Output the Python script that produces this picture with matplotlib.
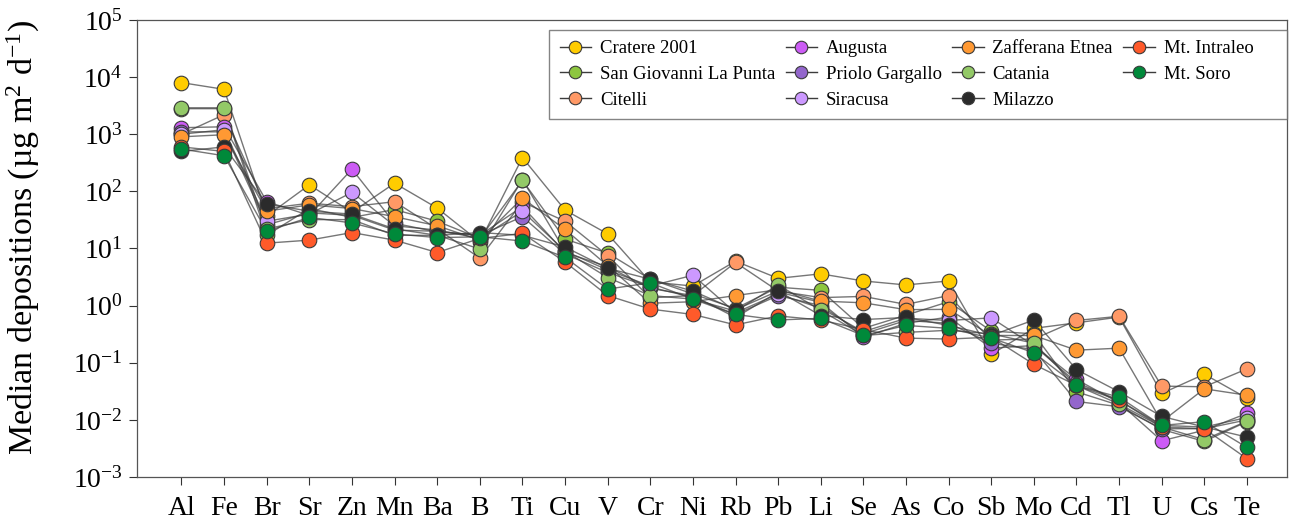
import matplotlib
matplotlib.use("Agg")
import matplotlib.pyplot as plt
from matplotlib.lines import Line2D
import numpy as np

plt.rcParams['font.family'] = ['Liberation Serif', 'DejaVu Serif']
plt.rcParams['mathtext.fontset'] = 'custom'
plt.rcParams['mathtext.rm'] = 'Liberation Serif'
plt.rcParams['mathtext.it'] = 'Liberation Serif:italic'

elements = ['Al', 'Fe', 'Br', 'Sr', 'Zn', 'Mn', 'Ba', 'B', 'Ti', 'Cu', 'V', 'Cr', 'Ni',
            'Rb', 'Pb', 'Li', 'Se', 'As', 'Co', 'Sb', 'Mo', 'Cd', 'Tl', 'U', 'Cs', 'Te']

cratere = [8000, 6100, 37, 130, 43, 139, 51, 13, 390, 47, 18, 2.6, 2.2, 6.0, 3.0, 3.6,
           2.7, 2.3, 2.7, 0.14, 0.40, 0.50, 0.63, 0.029, 0.063, 0.024]
san_giovanni = [2800, 2800, 17, 50, 35, 48, 30, 15, 155, 14.6, 8.3, 2.9, 1.6, 0.89, 2.1, 1.85,
                0.40, 0.68, 1.17, 0.36, 0.32, 0.031, 0.018, 0.0068, 0.0042, 0.0093]
citelli = [1000, 2200, 50, 62, 54, 66, 22, 6.8, 65, 30, 7.5, 1.37, 1.5, 5.7, 1.8, 1.38,
           1.45, 1.05, 1.5, 0.25, 0.26, 0.55, 0.65, 0.039, 0.038, 0.078]
augusta = [1300, 1350, 66, 38, 245, 27.6, 19.5, 17, 54, 8.5, 4.8, 2.0, 1.5, 0.62, 1.73, 1.14,
           0.28, 0.49, 0.63, 0.18, 0.20, 0.051, 0.020, 0.0043, 0.0066, 0.013]
priolo = [1100, 1100, 26, 42, 38, 21, 20, 17, 36, 8, 3.8, 2.1, 1.4, 0.7, 1.5, 1.0,
          0.32, 0.55, 0.49, 0.22, 0.17, 0.021, 0.017, 0.007, 0.007, 0.010]
siracusa = [1000, 1200, 30, 40, 96, 25, 21, 15, 45, 9, 4.2, 2.2, 3.4, 0.75, 1.6, 0.9,
            0.35, 0.6, 0.55, 0.61, 0.2, 0.045, 0.022, 0.008, 0.0075, 0.011]
zafferana = [900, 980, 45, 58, 50, 36, 25, 14, 76, 21.5, 5, 1.1, 1.17, 1.5, 1.9, 1.2,
             1.12, 0.85, 0.86, 0.3, 0.3, 0.166, 0.18, 0.0093, 0.035, 0.027]
catania = [2900, 2900, 22, 32, 32, 17, 17, 9.8, 160, 9, 3.1, 1.5, 1.3, 0.8, 2.3, 0.83,
           0.3, 0.34, 0.37, 0.32, 0.22, 0.04, 0.019, 0.0075, 0.0045, 0.0095]
milazzo = [500, 600, 60, 45, 40, 22, 17, 19, 17, 10.6, 4.5, 2.9, 1.8, 0.85, 1.8, 0.67,
           0.57, 0.62, 0.45, 0.3, 0.56, 0.076, 0.031, 0.0115, 0.0075, 0.005]
intraleo = [600, 500, 12.4, 14, 19, 14, 8.5, 15, 18.4, 5.8, 1.5, 0.87, 0.7, 0.46, 0.66, 0.56,
            0.38, 0.27, 0.26, 0.28, 0.094, 0.04, 0.022, 0.0075, 0.007, 0.0021]
soro = [550, 420, 20, 35, 28, 18, 15.5, 16, 13.5, 7, 1.95, 2.5, 1.3, 0.7, 0.56, 0.6,
        0.3, 0.45, 0.4, 0.27, 0.15, 0.04, 0.025, 0.008, 0.0093, 0.0033]

# legend order (column-wise, 4 columns)
series = [
    ('Cratere 2001', cratere, '#FFCC00'),
    ('San Giovanni La Punta', san_giovanni, '#8DC63F'),
    ('Citelli', citelli, '#FF9966'),
    ('Augusta', augusta, '#CC5CF5'),
    ('Priolo Gargallo', priolo, '#9366CC'),
    ('Siracusa', siracusa, '#CC99FF'),
    ('Zafferana Etnea', zafferana, '#FF9933'),
    ('Catania', catania, '#93C967'),
    ('Milazzo', milazzo, '#2B2B2B'),
    ('Mt. Intraleo', intraleo, '#FF5A2A'),
    ('Mt. Soro', soro, '#00893A'),
]

fig = plt.figure(figsize=(12.9, 5.25), dpi=100)
ax = fig.add_axes([0.106, 0.0914, 0.892, 0.8706])

x = np.arange(len(elements))
handles = []
for name, vals, col in series:
    # connecting line (semi transparent) then opaque markers on top
    ax.plot(x, vals, color='#3c3c3c', lw=1.0, alpha=0.7, zorder=2)
for name, vals, col in series:
    ax.plot(x, vals, ls='none', marker='o', ms=10.5, markerfacecolor=col,
            markeredgecolor='#3a3a3a', markeredgewidth=0.8, zorder=3)
    handles.append(Line2D([], [], color='#3c3c3c', lw=1.0, marker='o', ms=9,
                          markerfacecolor=col, markeredgecolor='#3a3a3a',
                          markeredgewidth=0.8, label=name))

ax.set_yscale('log')
ax.set_ylim(1e-3, 1e5)
ax.set_xlim(-1.05, 25.95)
ax.set_xticks(x)
ax.set_xticklabels(elements, fontsize=20)
ax.set_yticks([10.0 ** k for k in range(-3, 6)])
ax.set_yticklabels(['$10^{%d}$' % k for k in range(-3, 6)], fontsize=20)
ax.yaxis.set_minor_locator(matplotlib.ticker.NullLocator())
ax.tick_params(direction='out', length=6, width=0.8, colors='#333333', labelcolor='black')
ax.tick_params(axis='x', pad=8)
ax.tick_params(axis='y', pad=4)
for s in ax.spines.values():
    s.set_color('#555555')
    s.set_linewidth(0.9)

ax.set_ylabel('Median depositions (µg m$^{2}$ d$^{-1}$)', fontsize=24.5)
ax.yaxis.set_label_coords(-0.082, 0.525)

# trailing spaces widen the last column like the original box
handles[-2].set_label('Mt. Intraleo     ')
leg = ax.legend(handles=handles, ncol=4, loc='upper right', bbox_to_anchor=(1.0, 0.978),
                borderaxespad=0.0, fontsize=13.5, frameon=True, fancybox=False,
                edgecolor='#666666', handlelength=1.7, handletextpad=0.45,
                columnspacing=0.55, borderpad=0.55, labelspacing=0.45)
leg.get_frame().set_linewidth(1.0)

fig.savefig('out.png', dpi=100)
